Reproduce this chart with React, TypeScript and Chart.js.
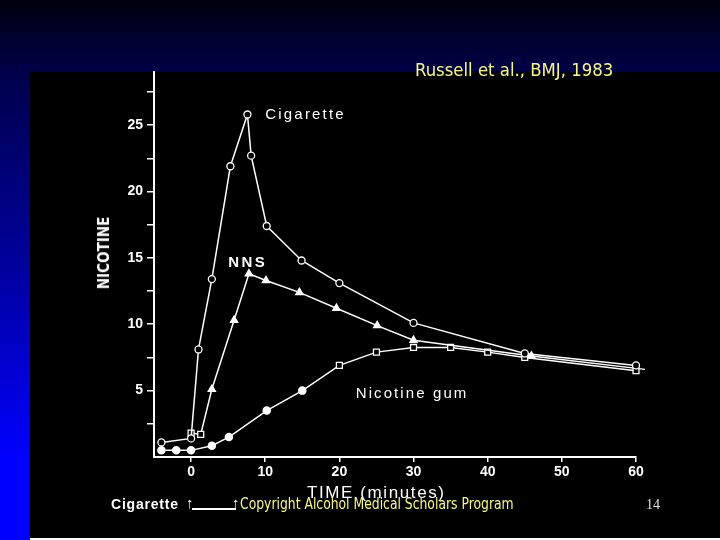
import { useEffect, useRef } from "react";
import { Chart, registerables } from "chart.js";

Chart.register(...registerables);

// minutes after start of use / plasma nicotine
const cigaretteTime = [-4, 0, 1, 2.8, 5.3, 7.6, 8.1, 10.2, 14.9, 20, 30, 45, 60];
const cigaretteNicotine = [1.1, 1.4, 8.1, 13.4, 21.9, 25.8, 22.7, 17.4, 14.8, 13.1, 10.1, 7.8, 6.9];

const nnsTime = [0, 1.3, 2.8, 5.8, 7.8, 10.1, 14.6, 19.6, 25.1, 30, 45.9, 61.2];
const nnsNicotine = [1.8, 1.7, 5.1, 10.3, 13.8, 13.3, 12.4, 11.2, 9.9, 8.8, 7.6, 6.6];

const gumTime = [-4, -2, 0, 2.8, 5.1, 10.2, 15, 20, 25, 30, 35, 40, 45, 60];
const gumNicotine = [0.5, 0.5, 0.5, 0.85, 1.5, 3.5, 5.0, 6.9, 7.9, 8.25, 8.25, 7.9, 7.5, 6.5];

const xTicks = [0, 10, 20, 30, 40, 50, 60];
const yTicks = [2.5, 5, 7.5, 10, 12.5, 15, 17.5, 20, 22.5, 25, 27.5];

const seriesLabels = [
  { text: "Cigarette", x: 10, y: 25.8, bold: false, spacing: 2.2 },
  { text: "NNS", x: 5, y: 14.6, bold: true, spacing: 2.5 },
  { text: "Nicotine gum", x: 22.2, y: 4.75, bold: false, spacing: 2.1 },
];

const toPoints = (xs: number[], ys: number[]) =>
  xs.map((x, i) => ({ x, y: ys[i] }));

const FONT = "'Liberation Sans', Arial, sans-serif";
const NARROW = "'Liberation Sans Narrow', 'DejaVu Sans Condensed', 'Liberation Sans', sans-serif";

const labelPlugin = {
  id: "seriesLabels",
  afterDatasetsDraw(chart: any) {
    const { ctx, scales } = chart;
    ctx.save();
    ctx.fillStyle = "#ffffff";
    ctx.textBaseline = "middle";
    ctx.textAlign = "left";
    seriesLabels.forEach((l) => {
      ctx.font = `${l.bold ? "bold " : ""}15px ${FONT}`;
      ctx.letterSpacing = `${l.spacing}px`;
      ctx.fillText(l.text, scales.x.getPixelForValue(l.x), scales.y.getPixelForValue(l.y));
    });
    ctx.restore();
  },
};

function NicotineChart() {
  const chartRef = useRef<HTMLCanvasElement>(null);

  useEffect(() => {
    if (!chartRef.current) return;
    const ctx = chartRef.current.getContext("2d");
    if (!ctx) return;

    const chart = new Chart(ctx, {
      type: "line",
      data: {
        datasets: [
          {
            label: "Cigarette",
            data: toPoints(cigaretteTime, cigaretteNicotine),
            borderColor: "#ffffff",
            borderWidth: 1.5,
            pointStyle: "circle",
            pointRadius: 3.5,
            pointBorderWidth: 1.3,
            pointBackgroundColor: "#000000",
            pointBorderColor: "#ffffff",
            clip: false,
          },
          {
            label: "NNS",
            data: toPoints(nnsTime, nnsNicotine),
            borderColor: "#ffffff",
            borderWidth: 1.5,
            pointStyle: nnsTime.map((_, i) => (i < 2 ? "rect" : "triangle")),
            pointRadius: 4.2,
            pointBorderWidth: 1.3,
            pointBackgroundColor: nnsTime.map((_, i) => (i < 2 ? "#000000" : "#ffffff")),
            pointBorderColor: "#ffffff",
            clip: false,
          },
          {
            label: "Nicotine gum",
            data: toPoints(gumTime, gumNicotine),
            borderColor: "#ffffff",
            borderWidth: 1.5,
            pointStyle: gumTime.map((_, i) => (i < 7 ? "circle" : "rect")),
            pointRadius: gumTime.map((_, i) => (i < 7 ? 3.6 : 4.2)),
            pointBorderWidth: 1.3,
            pointBackgroundColor: gumTime.map((_, i) => (i < 7 ? "#ffffff" : "#000000")),
            pointBorderColor: "#ffffff",
            clip: false,
          },
        ],
      },
      options: {
        responsive: false,
        animation: false,
        layout: { padding: { top: 72, right: 84, left: 0, bottom: 0 } },
        plugins: {
          legend: { display: false },
          tooltip: { enabled: false },
        },
        scales: {
          x: {
            type: "linear",
            min: -5,
            max: 60,
            afterBuildTicks: (scale: any) => {
              scale.ticks = xTicks.map((value) => ({ value }));
            },
            afterFit: (scale: any) => {
              scale.height = 83;
            },
            border: { color: "#ffffff", width: 2 },
            grid: {
              drawOnChartArea: false,
              color: "#ffffff",
              lineWidth: 1.5,
              tickLength: 5,
            },
            ticks: {
              color: "#ffffff",
              font: { family: FONT, size: 14, weight: "bold" },
              padding: 2,
              maxRotation: 0,
            },
          },
          y: {
            type: "linear",
            min: 0,
            max: 29,
            afterBuildTicks: (scale: any) => {
              scale.ticks = yTicks.map((value) => ({ value }));
            },
            afterFit: (scale: any) => {
              scale.width = 154;
            },
            border: { color: "#ffffff", width: 2 },
            grid: {
              drawOnChartArea: false,
              color: "#ffffff",
              lineWidth: 1.5,
              tickLength: 7,
            },
            ticks: {
              color: "#ffffff",
              font: { family: FONT, size: 14, weight: "bold" },
              padding: 4,
              callback: (value: any) => (Number(value) % 5 === 0 ? String(value) : ""),
            },
          },
        },
      },
      plugins: [labelPlugin],
    });

    return () => chart.destroy();
  }, []);

  return (
    <canvas
      ref={chartRef}
      width={720}
      height={540}
      style={{ position: "absolute", left: 0, top: 0, width: 720, height: 540 }}
    />
  );
}

export default function App() {
  return (
    <div
      style={{
        position: "absolute",
        left: 0,
        top: 0,
        width: 720,
        height: 540,
        overflow: "hidden",
        background:
          "linear-gradient(to bottom, #00000f 0%, #00004c 14%, #0000a0 50%, #0000ff 85%, #0000ff 100%)",
      }}
    >
      <div
        style={{
          position: "absolute",
          left: 30,
          top: 71,
          width: 690,
          height: 467,
          background: "#000000",
        }}
      />
      <div
        style={{
          position: "absolute",
          left: 30,
          top: 538,
          width: 690,
          height: 2,
          background: "#ffffff",
        }}
      />
      <NicotineChart />
      <div
        style={{
          position: "absolute",
          left: 415,
          top: 60,
          fontFamily: NARROW,
          fontSize: 18,
          lineHeight: "20px",
          color: "#f8f880",
          whiteSpace: "nowrap",
          transform: "scaleX(1.02)",
          transformOrigin: "left center",
        }}
      >
        Russell et al., BMJ, 1983
      </div>
      <div
        style={{
          position: "absolute",
          left: 104,
          top: 253,
          transform: "translate(-50%, -50%) rotate(-90deg)",
          fontFamily: NARROW,
          fontWeight: "bold",
          fontSize: 15,
          color: "#ffffff",
          whiteSpace: "nowrap",
        }}
      >
        NICOTINE
      </div>
      <div
        style={{
          position: "absolute",
          left: 307,
          top: 484,
          fontFamily: FONT,
          fontSize: 17,
          letterSpacing: 1.6,
          lineHeight: "18px",
          color: "#ffffff",
          whiteSpace: "nowrap",
        }}
      >
        TIME (minutes)
      </div>
      <div
        style={{
          position: "absolute",
          left: 111,
          top: 496,
          fontFamily: FONT,
          fontSize: 14,
          fontWeight: "bold",
          letterSpacing: 0.8,
          lineHeight: "16px",
          color: "#ffffff",
          whiteSpace: "nowrap",
        }}
      >
        Cigarette
      </div>
      <div
        style={{
          position: "absolute",
          left: 186,
          top: 495,
          fontFamily: FONT,
          fontSize: 15,
          fontWeight: "bold",
          lineHeight: "16px",
          color: "#ffffff",
        }}
      >
        ↑
      </div>
      <div
        style={{
          position: "absolute",
          left: 192,
          top: 508,
          width: 44,
          height: 1.5,
          background: "#ffffff",
        }}
      />
      <div
        style={{
          position: "absolute",
          left: 232,
          top: 495,
          fontFamily: FONT,
          fontSize: 15,
          fontWeight: "bold",
          lineHeight: "16px",
          color: "#ffffc0",
        }}
      >
        ↑
      </div>
      <div
        style={{
          position: "absolute",
          left: 240,
          top: 495,
          fontFamily: NARROW,
          fontSize: 16,
          lineHeight: "18px",
          color: "#f8f880",
          whiteSpace: "nowrap",
          transform: "scaleX(0.86)",
          transformOrigin: "left center",
        }}
      >
        Copyright Alcohol Medical Scholars Program
      </div>
      <div
        style={{
          position: "absolute",
          left: 646,
          top: 497,
          fontFamily: "'Liberation Serif', 'DejaVu Serif', serif",
          fontSize: 14,
          lineHeight: "16px",
          color: "#e0e0e0",
        }}
      >
        14
      </div>
    </div>
  );
}
